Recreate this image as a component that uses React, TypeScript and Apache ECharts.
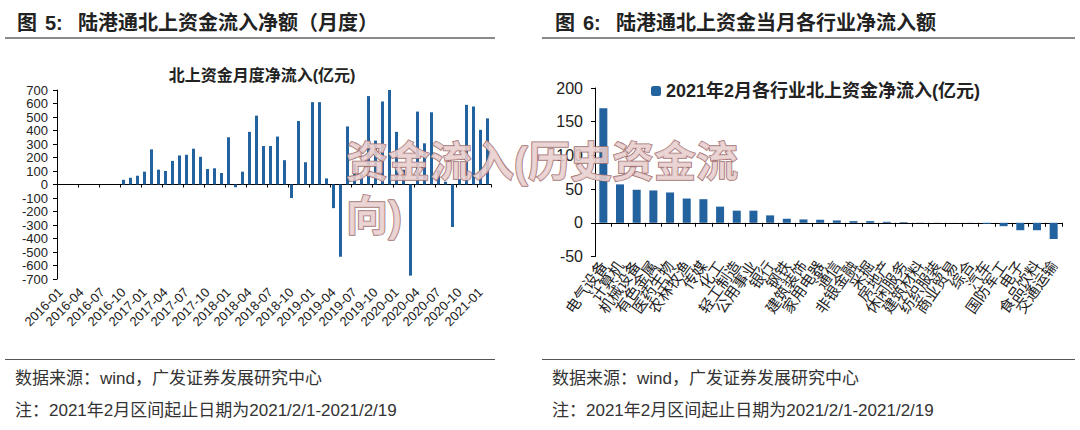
import React, { useEffect, useRef } from "react";
import * as echarts from "echarts";

const months = [
  "2016-01","2016-02","2016-03","2016-04","2016-05","2016-06","2016-07","2016-08","2016-09","2016-10","2016-11","2016-12",
  "2017-01","2017-02","2017-03","2017-04","2017-05","2017-06","2017-07","2017-08","2017-09","2017-10","2017-11","2017-12",
  "2018-01","2018-02","2018-03","2018-04","2018-05","2018-06","2018-07","2018-08","2018-09","2018-10","2018-11","2018-12",
  "2019-01","2019-02","2019-03","2019-04","2019-05","2019-06","2019-07","2019-08","2019-09","2019-10","2019-11","2019-12",
  "2020-01","2020-02","2020-03","2020-04","2020-05","2020-06","2020-07","2020-08","2020-09","2020-10","2020-11","2020-12",
  "2021-01","2021-02",
];

const monthlyNetInflow = [
  0, 0, 0, 0, 0, 0, 0, 0, 0, 35, 50, 65,
  95, 260, 110, 100, 175, 215, 220, 265, 205, 115, 120, 85,
  350, -20, 95, 390, 510, 285, 285, 355, 180, -100, 470, 165,
  610, 610, 45, -175, -535, 430, 150, 75, 655, 325, 615, 705,
  390, 110, -675, 540, 305, 535, 105, 20, -315, 40, 590, 578,
  405, 490,
];

const industries = [
  "电气设备","计算机","机械设备","有色金属","医药生物","农林牧渔","传媒","化工","轻工制造","公用事业",
  "银行","钢铁","建筑装饰","家用电器","通信","非银金融","采掘","房地产","休闲服务","建筑材料",
  "纺织服装","商业贸易","综合","汽车","国防军工","电子","食品饮料","交通运输",
];

const industryNetInflow = [
  170, 57, 49, 48, 45, 36, 35, 24, 18, 18,
  11, 6, 5, 4.5, 3.5, 2.5, 2.5, 1.5, 1, 0.3,
  0.2, 0.1, -0.2, -1.5, -5, -11, -11, -24,
];

const leftTitle = "北上资金月度净流入(亿元)";
const rightSeriesName = "2021年2月各行业北上资金净流入(亿元)";
const leftHeader = ["图", "5:", "陆港通北上资金流入净额（月度）"];
const rightHeader = ["图", "6:", "陆港通北上资金当月各行业净流入额"];
const sourceText = "数据来源：wind，广发证券发展研究中心";
const noteText = "注：2021年2月区间起止日期为2021/2/1-2021/2/19";
const watermark = ["资金流入(历史资金流", "向)"];

const FONT = "'Liberation Sans', 'Noto Sans CJK SC', sans-serif";
const BLUE = "#22629f";

function txt(text: string, x: number, y: number, size: number, extra: any = {}) {
  return {
    type: "text",
    silent: true,
    style: {
      text,
      x,
      y,
      fontSize: size,
      fontFamily: FONT,
      fill: "#222",
      verticalAlign: "middle",
      ...extra,
    },
  };
}

export default function App() {
  const ref = useRef<HTMLDivElement>(null);
  useEffect(() => {
    if (!ref.current) return;
    const chart = echarts.init(ref.current, undefined, { renderer: "svg" });
    const wmStyle = {
      fontSize: 42, fontWeight: "bold", fontFamily: FONT,
      fill: "rgba(232,206,206,0.9)", stroke: "#a27474", lineWidth: 1.5, verticalAlign: "middle",
    };
    const option: any = {
      animation: false,
      backgroundColor: "#ffffff",
      textStyle: { fontFamily: FONT },
      grid: [
        { left: 57, width: 434, top: 90, height: 189 },
        { left: 595, width: 467, top: 88, height: 168.5 },
      ],
      legend: {
        data: [rightSeriesName],
        left: 646,
        top: 77,
        itemWidth: 10,
        itemHeight: 10,
        itemGap: 4,
        textStyle: { fontSize: 18, fontWeight: "bold", color: "#222", fontFamily: FONT },
      },
      xAxis: [
        {
          type: "category", gridIndex: 0, data: months, position: "bottom",
          axisLine: { show: false, onZero: false }, axisTick: { show: false },
          axisLabel: { interval: 2, rotate: 45, fontSize: 13, color: "#222", margin: 11 },
        },
        {
          type: "category", gridIndex: 0, data: months, position: "top",
          axisLine: { show: true, onZero: true, lineStyle: { color: "#000", width: 1 } },
          axisTick: { show: true, interval: 2, inside: true, length: 3, lineStyle: { color: "#000" } },
          axisLabel: { show: false },
        },
        {
          type: "category", gridIndex: 1, data: industries, position: "bottom",
          axisLine: { show: false, onZero: false }, axisTick: { show: false },
          axisLabel: { interval: 0, rotate: 55, fontSize: 15, color: "#222", margin: 6 },
        },
        {
          type: "category", gridIndex: 1, data: industries, position: "top",
          axisLine: { show: true, onZero: true, lineStyle: { color: "#000", width: 1 } },
          axisTick: { show: true, interval: 0, inside: true, length: 4, lineStyle: { color: "#000" } },
          axisLabel: { show: false },
        },
      ],
      yAxis: [
        {
          type: "value", gridIndex: 0, min: -700, max: 700, interval: 100,
          axisLine: { show: true, onZero: false, lineStyle: { color: "#000" } },
          axisTick: { show: true, length: 4, lineStyle: { color: "#000" } },
          splitLine: { show: false },
          axisLabel: { fontSize: 13, color: "#222", margin: 9 },
        },
        {
          type: "value", gridIndex: 1, min: -50, max: 200, interval: 50,
          axisLine: { show: true, onZero: false, lineStyle: { color: "#000" } },
          axisTick: { show: true, length: 4, lineStyle: { color: "#000" } },
          splitLine: { show: false },
          axisLabel: { fontSize: 16, color: "#222", margin: 12 },
        },
      ],
      series: [
        {
          type: "bar", xAxisIndex: 0, yAxisIndex: 0, data: monthlyNetInflow,
          barWidth: 3, itemStyle: { color: BLUE },
        },
        {
          name: rightSeriesName, type: "bar", xAxisIndex: 2, yAxisIndex: 1, data: industryNetInflow,
          barWidth: 8, itemStyle: { color: BLUE },
        },
      ],
      graphic: [
        txt(leftHeader[0], 17, 23, 20, { fontWeight: "bold" }),
        txt(leftHeader[1], 45, 23, 20, { fontWeight: "bold" }),
        txt(leftHeader[2], 78, 23, 20, { fontWeight: "bold" }),
        { type: "rect", silent: true, shape: { x: 5, y: 37, width: 490, height: 2 }, style: { fill: "#8a8a8a" } },
        txt(rightHeader[0], 555, 23, 20, { fontWeight: "bold" }),
        txt(rightHeader[1], 583, 23, 20, { fontWeight: "bold" }),
        txt(rightHeader[2], 616, 23, 20, { fontWeight: "bold" }),
        { type: "rect", silent: true, shape: { x: 542, y: 37, width: 533, height: 2 }, style: { fill: "#8a8a8a" } },
        txt(leftTitle, 262, 75, 16, { fontWeight: "bold", align: "center" }),
        { type: "rect", silent: true, shape: { x: 5, y: 359, width: 490, height: 1 }, style: { fill: "#555" } },
        { type: "rect", silent: true, shape: { x: 542, y: 359, width: 533, height: 1 }, style: { fill: "#555" } },
        txt(sourceText, 15, 378, 17, { fill: "#333" }),
        txt(noteText, 15, 410, 17, { fill: "#333" }),
        txt(sourceText, 552, 378, 17, { fill: "#333" }),
        txt(noteText, 552, 410, 17, { fill: "#333" }),
        { type: "text", silent: true, z: 100, style: { text: watermark[0], x: 346, y: 162, ...wmStyle } },
        { type: "text", silent: true, z: 100, style: { text: watermark[1], x: 346, y: 216, ...wmStyle } },
      ],
    };
    chart.setOption(option);
    return () => chart.dispose();
  }, []);
  return (
    <div
      ref={ref}
      style={{ position: "fixed", left: 0, top: 0, width: 1080, height: 430, background: "#fff" }}
    />
  );
}
